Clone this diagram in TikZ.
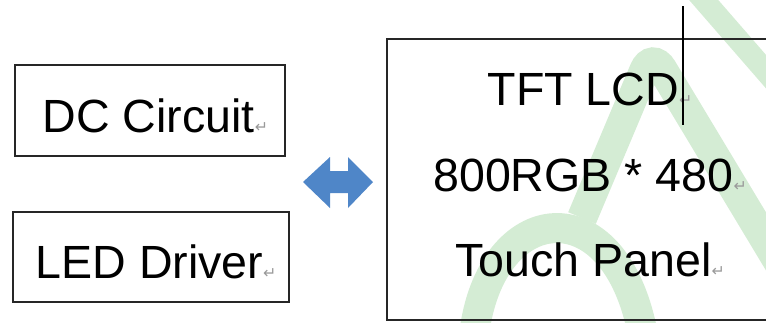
\documentclass[tikz,border=0pt]{standalone}
\usepackage{fontspec}
\setmainfont{Liberation Sans}
\newfontfamily\symfont{DejaVu Sans}
\usepackage{xcolor}

\definecolor{arrowblue}{RGB}{79,134,200}
\definecolor{wmgreen}{RGB}{212,236,212}
\newcommand{\ret}{{\symfont\fontsize{9}{9}\selectfont\color{black!40}↵}}

\tikzset{
    box/.style={draw=black!85, line width=1.1pt, inner sep=0pt, text height=0.87cm, text depth=0pt,
        font=\fontsize{26.5}{30}\selectfont},
    bigtext/.style={align=center, inner sep=0pt, font=\fontsize{26.5}{48.7}\selectfont},
    wmband/.style={wmgreen, line width=0.6cm, line cap=butt}
}

\begin{document}
\begin{tikzpicture}[x=0.02cm, y=-0.02cm]
                    \useasboundingbox (0, 0) rectangle (766, 322);

                    % watermark
                    \begin{scope}
                        \clip (0, 0) rectangle (766, 322);
                        \draw[wmband, line width=0.44cm] (695, -10) -- (775, 82);
                        \draw[wmband, rounded corners=0.4cm] (782, 268) -- (652, 52) -- (582, 218);
                        \draw[wmband] (474, 335) .. controls (490, 200) and (615, 185) .. (643, 335);
                    \end{scope}

                    \node[box, minimum width=5.4cm, minimum height=1.82cm] (dc) at (150, 110.5) {\hspace*{0.22cm}DC Circuit\ret};
                    \node[box, minimum width=5.52cm, minimum height=1.8cm] (led) at (151, 257) {\hspace*{0.2cm}LED Driver\ret};

                    \node[draw=black!85, line width=1.1pt, minimum width=8.12cm, minimum height=5.62cm] (lcd) at (590, 179.5) {};
                    \node[bigtext] (lcdtext) at (590, 175) {TFT LCD\ret\\ 800RGB * 480\ret\\ Touch Panel\ret};

                    \fill[arrowblue]
                    (303, 182) -- (330, 157) -- (330, 171) -- (348, 171) -- (348, 157) -- (373, 182)
                    -- (348, 208) -- (348, 193) -- (330, 193) -- (330, 208) -- cycle;

                    \coordinate (ctop) at (683, 6);
                    \coordinate (cbot) at (683, 125);
                    \draw[line width=1.2pt] (ctop) -- (cbot);
                \end{tikzpicture}
\end{document}
